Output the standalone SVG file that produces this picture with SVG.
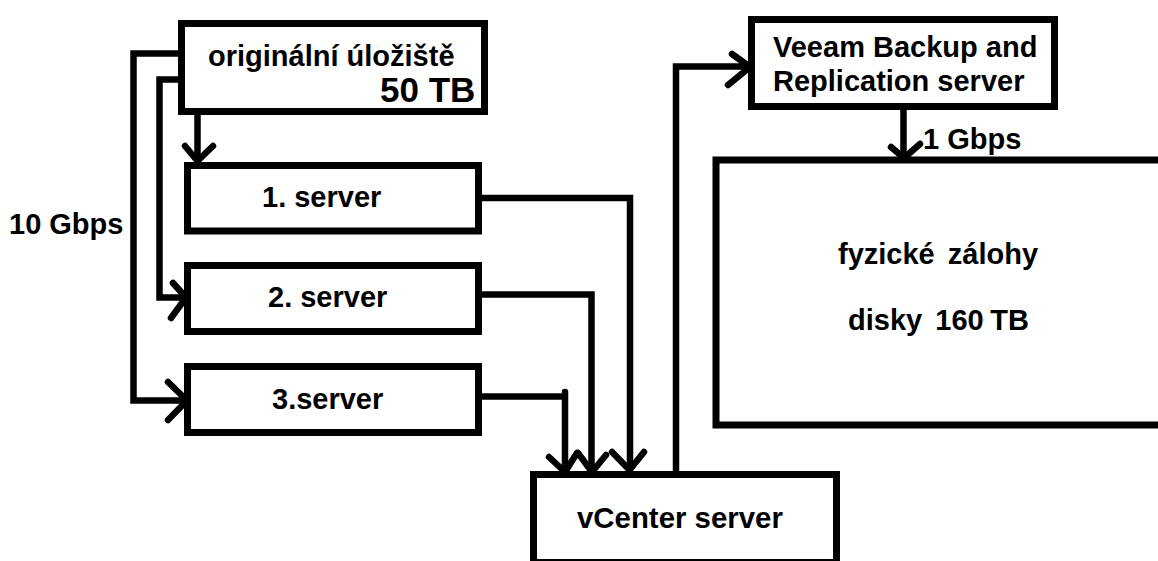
<svg xmlns="http://www.w3.org/2000/svg" width="1158" height="561" viewBox="0 0 1158 561">
<style>
.box{fill:#fff;stroke:#000;stroke-width:7}
.c{fill:none;stroke:#000;stroke-width:6.5}
.h{fill:none;stroke:#000;stroke-width:6.5;stroke-linecap:round;stroke-linejoin:round}
text{font-family:"Liberation Sans",Arial,sans-serif;font-weight:bold;fill:#000;font-size:29px;white-space:pre}
.w{word-spacing:-1.5px}
</style>
<rect width="1158" height="561" fill="#fff"/>
<g id="connectors">
<path class="c" d="M181 53.500H133.500V400.500H184"/>
<path class="c" d="M181 79.500H159.500V297.500H184"/>
<path class="c" d="M197.500 112V160"/>
<path class="c" d="M479 198H630V470"/>
<path class="c" d="M479 294.500H591.500V472"/>
<path class="c" d="M479 396.500H565"/>
<path class="h" d="M565 392V472"/>
<path class="c" d="M676 473V66.500H750"/>
<path class="c" d="M903.500 107V157"/>
<path class="h" d="M173 283L186 297.500L171 318"/>
<path class="h" d="M168 382L187 400.500L168 420"/>
<path class="h" d="M185 146L197.500 161L213 146"/>
<path class="h" d="M612 452L629.500 470L644 452"/>
<path class="h" d="M578 453L592 472L606 455"/>
<path class="h" d="M549 457L565 472L577 453"/>
<path class="h" d="M732 54L750 67L728 85"/>
<path class="h" d="M891 147L904 158L920 144"/>
</g>
<g id="storage"><rect class="box" x="181.500" y="23.500" width="303" height="88"/><text x="208" y="66">originální úložiště</text><text x="380" y="102" style="font-size:35px">50 TB</text></g>
<g id="server1"><rect class="box" x="187.500" y="165.500" width="291" height="65.500"/><text x="262" y="207">1. server</text></g>
<g id="server2"><rect class="box" x="187.500" y="265.500" width="291" height="66"/><text x="268" y="307">2. server</text></g>
<g id="server3"><rect class="box" x="187.500" y="366.500" width="291" height="66"/><text x="272" y="409">3.server</text></g>
<g id="vcenter"><rect class="box" x="533.500" y="474.500" width="303" height="88"/><text x="577" y="528" style="font-size:29.400px">vCenter server</text></g>
<g id="veeam"><rect class="box" x="751.500" y="19.500" width="303" height="87"/><text x="773" y="57">Veeam Backup and</text><text x="773" y="91">Replication server</text></g>
<g id="backup"><rect class="box" x="716" y="160" width="460" height="265"/><text class="w" x="838" y="264">fyzické  zálohy</text><text class="w" x="848" y="330">disky  160 TB</text></g>
<text id="l10" x="9" y="234">10 Gbps</text>
<text id="l1" x="923" y="149">1 Gbps</text>
</svg>
